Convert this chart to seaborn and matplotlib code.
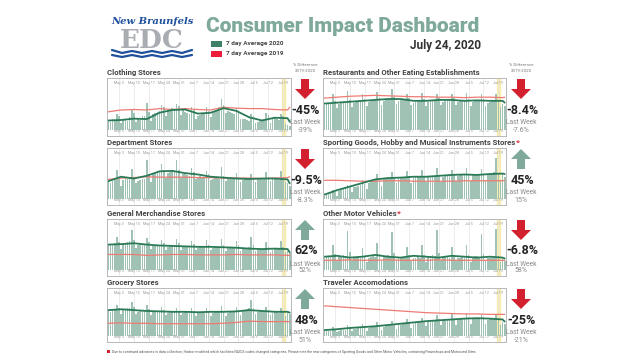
import matplotlib
matplotlib.use("Agg")
import matplotlib.pyplot as plt
import seaborn as sns
import pandas as pd
from matplotlib.patches import FancyArrow, Rectangle
from matplotlib.lines import Line2D

# ---------------- data ----------------
DATES = pd.date_range("2020-04-28", "2020-07-22")  # 86 days
TICK_LABELS = ["May 3", "May 10", "May 17", "May 24", "May 31", "Jun 7",
               "Jun 14", "Jun 21", "Jun 28", "Jul 5", "Jul 12", "Jul 19"]
TICK_DAYS = [5, 12, 19, 26, 33, 40, 47, 54, 61, 68, 75, 82]
LINE_DAYS = [0, 6, 12, 18, 24, 30, 36, 42, 48, 54, 60, 66, 72, 78, 84, 85]

clothing_bars = [20, 18, 25, 22, 35, 30, 15, 22, 24, 20, 28, 45, 38, 18,
                 24, 22, 30, 30, 60, 40, 20, 35, 38, 40, 42, 55, 50, 30,
                 42, 45, 48, 44, 58, 52, 32, 45, 40, 38, 36, 50, 45, 25,
                 30, 32, 35, 38, 50, 42, 28, 40, 42, 45, 50, 67, 55, 38,
                 42, 40, 38, 36, 48, 42, 25, 25, 24, 22, 20, 35, 30, 15,
                 18, 20, 22, 24, 38, 32, 16, 24, 26, 25, 22, 35, 30, 14, 10, 8]
clothing_2020 = [21, 22, 25, 24, 38, 44, 45, 36, 38, 48, 42, 28, 21, 27, 26, 18]
clothing_2019 = [40, 44, 45, 44, 47, 45, 47, 45, 44, 50, 48, 47, 47, 45, 44, 50]

department_bars = [38, 36, 40, 42, 65, 45, 30, 42, 45, 44, 48, 68, 50, 35,
                   40, 42, 44, 46, 87, 55, 38, 55, 58, 60, 62, 78, 65, 48,
                   58, 60, 62, 60, 87, 66, 50, 55, 56, 54, 52, 70, 60, 45,
                   50, 52, 50, 48, 62, 55, 42, 46, 48, 47, 46, 72, 52, 40,
                   44, 45, 44, 45, 58, 50, 38, 43, 44, 44, 45, 56, 48, 38,
                   44, 45, 45, 46, 60, 50, 40, 44, 45, 44, 43, 62, 48, 38, 35, 30]
department_2020 = [40, 50, 46, 52, 62, 63, 58, 55, 50, 48, 46, 45, 46, 46, 44, 35]
department_2019 = [44, 47, 48, 50, 49, 49, 49, 48, 48, 47, 47, 47, 46, 47, 48, 50]

general_bars = [55, 56, 58, 60, 75, 62, 48, 58, 60, 62, 64, 90, 68, 50,
                56, 58, 57, 56, 72, 62, 48, 54, 55, 56, 55, 68, 60, 46,
                52, 54, 55, 54, 70, 60, 45, 52, 53, 54, 53, 66, 58, 44,
                50, 52, 53, 52, 68, 57, 44, 50, 51, 52, 51, 70, 56, 43,
                49, 50, 51, 50, 64, 55, 42, 48, 49, 50, 52, 75, 56, 42,
                46, 47, 48, 47, 62, 52, 40, 46, 47, 48, 47, 65, 52, 40, 42, 38]
general_2020 = [57, 58, 60, 57, 55, 54, 53, 52, 52, 51, 50, 48, 47, 48, 47, 40]
general_2019 = [35, 35, 35, 33, 34, 35, 35, 34, 34, 34, 35, 34, 34, 34, 33, 33]

grocery_bars = [60, 58, 62, 64, 75, 66, 52, 62, 64, 66, 68, 80, 70, 54,
                58, 60, 62, 60, 74, 64, 50, 58, 59, 60, 58, 70, 62, 50,
                56, 58, 58, 57, 68, 60, 50, 56, 57, 58, 56, 66, 60, 48,
                55, 56, 57, 56, 68, 60, 48, 56, 57, 58, 57, 72, 60, 49,
                56, 58, 60, 58, 70, 62, 50, 60, 62, 64, 66, 85, 68, 52,
                58, 60, 60, 58, 70, 62, 50, 56, 58, 58, 56, 68, 60, 48, 56, 54]
grocery_2020 = [62, 64, 62, 60, 59, 58, 58, 57, 58, 58, 59, 62, 60, 58, 58, 56]
grocery_2019 = [31, 32, 31, 31, 30, 30, 30, 30, 30, 31, 33, 36, 35, 35, 35, 35]

restaurant_bars = [55, 56, 58, 60, 78, 64, 48, 58, 60, 62, 62, 85, 66, 50,
                   60, 62, 64, 64, 80, 68, 52, 62, 64, 66, 66, 84, 70, 54,
                   64, 66, 68, 68, 90, 72, 56, 64, 66, 68, 66, 80, 70, 54,
                   60, 62, 64, 64, 82, 68, 52, 62, 64, 66, 66, 78, 70, 54,
                   62, 64, 66, 66, 80, 70, 54, 62, 64, 64, 64, 82, 68, 52,
                   62, 64, 65, 64, 78, 68, 52, 60, 62, 64, 64, 80, 66, 50, 58, 52]
restaurant_2020 = [58, 60, 62, 64, 66, 68, 68, 64, 64, 66, 66, 64, 65, 64, 64, 60]
restaurant_2019 = [70, 72, 74, 75, 76, 75, 74, 73, 73, 72, 72, 71, 72, 72, 71, 72]

sporting_bars = [8, 10, 12, 14, 20, 16, 8, 18, 20, 22, 24, 32, 26, 16,
                 26, 28, 30, 32, 42, 34, 22, 36, 38, 40, 42, 55, 44, 30,
                 44, 46, 48, 48, 60, 50, 36, 46, 48, 50, 50, 62, 52, 36,
                 48, 50, 50, 50, 64, 52, 38, 50, 52, 52, 52, 70, 54, 38,
                 50, 52, 52, 52, 66, 54, 40, 52, 54, 56, 56, 70, 56, 40,
                 54, 56, 56, 56, 68, 56, 42, 54, 56, 58, 60, 92, 58, 42, 55, 50]
sporting_2020 = [10, 20, 28, 36, 44, 47, 48, 50, 50, 52, 54, 55, 54, 56, 57, 56]
sporting_2019 = [42, 42, 41, 40, 40, 41, 41, 40, 40, 40, 40, 41, 41, 41, 41, 42]

motor_bars = [28, 30, 32, 30, 55, 36, 20, 30, 32, 34, 32, 88, 40, 22,
              26, 28, 30, 28, 50, 32, 18, 28, 30, 32, 30, 60, 36, 20,
              30, 32, 34, 32, 85, 38, 22, 28, 30, 30, 28, 52, 34, 20,
              26, 28, 30, 28, 55, 34, 18, 30, 32, 34, 32, 90, 38, 22,
              28, 30, 30, 28, 52, 34, 20, 26, 28, 30, 28, 55, 34, 18,
              30, 32, 32, 30, 80, 36, 20, 26, 28, 28, 26, 92, 32, 18, 24, 20]
motor_2020 = [30, 32, 28, 30, 34, 30, 28, 32, 30, 28, 32, 30, 28, 30, 28, 26]
motor_2019 = [22, 22, 23, 22, 22, 23, 22, 22, 22, 23, 22, 22, 22, 22, 22, 22]

traveler_bars = [12, 12, 14, 14, 22, 18, 10, 14, 15, 16, 16, 26, 20, 12,
                 18, 18, 20, 20, 30, 24, 14, 20, 22, 22, 24, 34, 26, 16,
                 22, 24, 26, 26, 36, 30, 18, 26, 28, 30, 30, 40, 32, 20,
                 30, 32, 34, 34, 44, 36, 24, 34, 36, 38, 38, 50, 40, 26,
                 36, 38, 40, 40, 52, 42, 28, 38, 40, 42, 42, 56, 46, 30,
                 40, 42, 44, 44, 54, 46, 30, 38, 40, 42, 42, 52, 44, 28, 34, 30]
traveler_2020 = [15, 17, 20, 22, 24, 27, 30, 33, 36, 38, 40, 42, 43, 42, 40, 35]
traveler_2019 = [72, 70, 68, 66, 64, 62, 60, 58, 56, 55, 54, 53, 53, 52, 52, 52]

titles = ["Clothing Stores", "Department Stores", "General Merchandise Stores",
          "Grocery Stores", "Restaurants and Other Eating Establishments",
          "Sporting Goods, Hobby and Musical Instruments Stores",
          "Other Motor Vehicles", "Traveler Accomodations"]
pct_diff = ["-45%", "-9.5%", "62%", "48%", "-8.4%", "45%", "-6.8%", "-25%"]
last_week = ["-39%", "-8.3%", "52%", "51%", "-7.6%", "15%", "58%", "-21%"]
starred = [False, False, False, False, False, True, True, False]

bars_all = [clothing_bars, department_bars, general_bars, grocery_bars,
            restaurant_bars, sporting_bars, motor_bars, traveler_bars]
l2020_all = [clothing_2020, department_2020, general_2020, grocery_2020,
             restaurant_2020, sporting_2020, motor_2020, traveler_2020]
l2019_all = [clothing_2019, department_2019, general_2019, grocery_2019,
             restaurant_2019, sporting_2019, motor_2019, traveler_2019]

# ---------------- style ----------------
sns.set_theme(style="white")
plt.rcParams["font.family"] = ["Roboto", "DejaVu Sans"]

BAR_C = "#a0c2b4"
G_C = "#2b7a57"
R_C = "#ee7b72"
TEAL = "#7fa99a"
RED = "#d3202f"

W, H = 640, 360
fig = plt.figure(figsize=(6.4, 3.6), dpi=100)
fig.patch.set_facecolor("white")

def fx(px):
    return px / W

def fy(py):
    return 1 - py / H

col_x = [(107, 291), (323, 506)]
row_y = [(78, 136), (148, 205), (219, 276), (288, 342)]
ind_x = [305, 521]

title_objs = []
for i in range(8):
    c, r = divmod(i, 4)
    x0, x1 = col_x[c]
    y0, y1 = row_y[r]
    ax = fig.add_axes([fx(x0), fy(y1), fx(x1 - x0), (y1 - y0) / H])
    days = list(range(len(DATES)))
    df = pd.DataFrame({"day": days, "value": bars_all[i]})
    sns.barplot(data=df, x="day", y="value", color=BAR_C, width=0.8,
                saturation=1, errorbar=None, linewidth=0, edgecolor="none",
                ax=ax)
    ax.axvspan(81.2, 82.6, color="#f6ebb0", zorder=0.5)
    sns.lineplot(x=LINE_DAYS, y=l2019_all[i], color=R_C, lw=0.9, ax=ax)
    sns.lineplot(x=LINE_DAYS, y=l2020_all[i], color=G_C, lw=1.3, ax=ax)
    ax.set_xlim(-0.6, len(DATES) - 0.4)
    ax.set_ylim(-13, 114)
    ax.set_xticks(TICK_DAYS)
    ax.set_xticklabels(TICK_LABELS)
    ax.set_yticks([])
    ax.set_xlabel("")
    ax.set_ylabel("")
    ax.tick_params(axis="x", labelsize=2.6, colors="#9a9a9a", length=0,
                   pad=-5, labeltop=True, labelbottom=True)
    ax.grid(axis="x", color="#e6e6e6", lw=0.5)
    ax.set_axisbelow(True)
    for s in ax.spines.values():
        s.set_color("#b8b8b8")
        s.set_linewidth(0.7)
    t = ax.set_title(titles[i], loc="left", fontsize=5.6, fontweight="bold",
                     color="#444444", pad=2.5)
    title_objs.append(t)

    # indicator column
    xi = fx(ind_x[c])
    up = not pct_diff[i].startswith("-")
    ytop = y0 + 1
    col = TEAL if up else RED
    alen = 20 / H
    if up:
        arr = FancyArrow(xi, fy(ytop + 20), 0, alen, width=fx(8), head_width=fx(20),
                         head_length=10 / H, length_includes_head=True,
                         transform=fig.transFigure, color=col, lw=0)
    else:
        arr = FancyArrow(xi, fy(ytop), 0, -alen, width=fx(8), head_width=fx(20),
                         head_length=10 / H, length_includes_head=True,
                         transform=fig.transFigure, color=col, lw=0)
    fig.add_artist(arr)
    fig.text(xi + fx(1), fy(y0 + 32), pct_diff[i], ha="center", va="center",
             fontsize=9, fontweight="bold", color="#222222")
    fig.text(xi, fy(y0 + 45), "Last Week", ha="center", va="center",
             fontsize=4.8, color="#8a8a8a")
    fig.text(xi, fy(y0 + 52), last_week[i], ha="center", va="center",
             fontsize=5, color="#8a8a8a")

for c in range(2):
    xi = fx(ind_x[c])
    fig.text(xi, fy(65), "% Difference", ha="center", va="center",
             fontsize=3.2, color="#777777")
    fig.text(xi, fy(71.5), "2019-2020", ha="center", va="center",
             fontsize=3.2, color="#777777")

# red asterisks after starred titles
fig.canvas.draw()
for i in range(8):
    if starred[i]:
        bb = title_objs[i].get_window_extent()
        fig.text(bb.x1 / W + 0.001, bb.y0 / H, "*", color=RED, fontsize=6,
                 fontweight="bold", va="bottom", ha="left")

# ---------------- header ----------------
fig.text(fx(206), fy(27), "Consumer Impact Dashboard", fontsize=15,
         fontweight="black", color=TEAL, va="center", ha="left")
fig.text(fx(481), fy(45), "July 24, 2020", fontsize=8.5, fontweight="bold",
         color="#333333", va="center", ha="right")
fig.add_artist(Rectangle((fx(211), fy(47)), fx(11), 6 / H,
                         transform=fig.transFigure, color="#3f8068", lw=0))
fig.add_artist(Rectangle((fx(211), fy(57)), fx(11), 6 / H,
                         transform=fig.transFigure, color="#ee1c3b", lw=0))
fig.text(fx(226), fy(44), "7 day Average 2020", fontsize=4.6,
         fontweight="bold", color="#444444", va="center")
fig.text(fx(226), fy(54), "7 day Average 2019", fontsize=4.6,
         fontweight="bold", color="#444444", va="center")

# logo
fig.text(fx(152), fy(22), "New Braunfels", fontsize=7.2, fontstyle="italic",
         fontweight="bold", family="DejaVu Serif", color="#1d4f9c",
         ha="center", va="center")
fig.text(fx(152), fy(40), "EDC", fontsize=19, fontweight="bold",
         family="DejaVu Serif", color="#a9adb2", ha="center", va="center")
wave_x = [112, 122, 132, 142, 152, 162, 172, 182, 192]
wave_y1 = [50, 53, 51, 53, 51, 53, 51, 53, 50]
wave_y2 = [55, 57, 55, 57, 55, 57, 55, 57, 55]
fig.add_artist(Line2D([fx(v) for v in wave_x], [fy(v) for v in wave_y1],
                      color="#1d4f9c", lw=1.6, transform=fig.transFigure))
fig.add_artist(Line2D([fx(v) for v in wave_x], [fy(v) for v in wave_y2],
                      color="#1d4f9c", lw=1.6, transform=fig.transFigure))

# footnote
fig.add_artist(Rectangle((fx(107), fy(353)), fx(3), 3 / H,
                         transform=fig.transFigure, color=RED, lw=0))
fig.text(fx(112), fy(351.5),
         "Due to continued advances in data collection, Harbor modified which "
         "facilities NAICS codes changed categories. Please note the new categories "
         "of Sporting Goods and Other Motor Vehicles, containing Pawnshops and Motorized Sites",
         fontsize=2.5, color="#555555", va="center", ha="left")

fig.savefig("out.png", dpi=100)
